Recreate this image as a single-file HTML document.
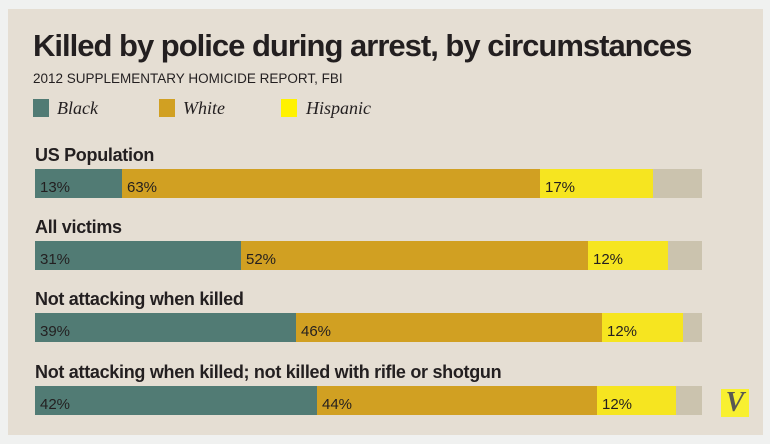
<!DOCTYPE html><html><head><style>
body{margin:0;background:#f0f1f0;width:770px;height:444px;position:relative;overflow:hidden;font-family:"Liberation Sans",sans-serif}
.p{position:absolute;left:8px;top:9px;width:755px;height:426px;background:#e5ded3}
.a{position:absolute}
.t{left:33px;top:28px;font-size:31px;font-weight:bold;color:#231f20;letter-spacing:-1px}
.s{left:33px;top:71px;font-size:13.5px;color:#231f20}
.sq{width:16px;height:18px;top:99px}
.lg{top:98px;font-family:"Liberation Serif",serif;font-style:italic;font-size:18px;color:#231f20}
.h{left:35px;font-size:18px;font-weight:bold;color:#231f20;letter-spacing:-0.3px}
.b{height:29px}
.n{font-size:15px;color:#231f20;line-height:29px;padding-left:5px;box-sizing:border-box;padding-top:4px}
.k{background:#517b74}.g{background:#d1a022}.y{background:#f6e520}.r{background:#cbc3ae}
</style></head><body><div class="p"></div>
<div class="a t">Killed by police during arrest, by circumstances</div>
<div class="a s">2012 SUPPLEMENTARY HOMICIDE REPORT, FBI</div>
<div class="a sq k" style="left:33px"></div><div class="a lg" style="left:57px">Black</div>
<div class="a sq g" style="left:159px"></div><div class="a lg" style="left:183px">White</div>
<div class="a sq" style="left:281px;background:#fff200"></div><div class="a lg" style="left:306px">Hispanic</div>

<div class="a h" style="top:145px">US Population</div>
<div class="a b n k" style="top:169px;left:35px;width:87px">13%</div>
<div class="a b n g" style="top:169px;left:122px;width:418px">63%</div>
<div class="a b n y" style="top:169px;left:540px;width:113px">17%</div>
<div class="a b r" style="top:169px;left:653px;width:49px"></div>

<div class="a h" style="top:217px">All victims</div>
<div class="a b n k" style="top:241px;left:35px;width:206px">31%</div>
<div class="a b n g" style="top:241px;left:241px;width:347px">52%</div>
<div class="a b n y" style="top:241px;left:588px;width:80px">12%</div>
<div class="a b r" style="top:241px;left:668px;width:34px"></div>

<div class="a h" style="top:289px">Not attacking when killed</div>
<div class="a b n k" style="top:313px;left:35px;width:261px">39%</div>
<div class="a b n g" style="top:313px;left:296px;width:306px">46%</div>
<div class="a b n y" style="top:313px;left:602px;width:81px">12%</div>
<div class="a b r" style="top:313px;left:683px;width:19px"></div>

<div class="a h" style="top:362px">Not attacking when killed; not killed with rifle or shotgun</div>
<div class="a b n k" style="top:386px;left:35px;width:282px">42%</div>
<div class="a b n g" style="top:386px;left:317px;width:280px">44%</div>
<div class="a b n y" style="top:386px;left:597px;width:79px">12%</div>
<div class="a b r" style="top:386px;left:676px;width:26px"></div>

<div class="a" style="left:721px;top:389px;width:28px;height:28px;background:#f8f030;color:#5a5a52;font-family:'Liberation Serif',serif;font-weight:bold;font-style:italic;font-size:28px;line-height:28px;text-align:center">V</div>
</body></html>
